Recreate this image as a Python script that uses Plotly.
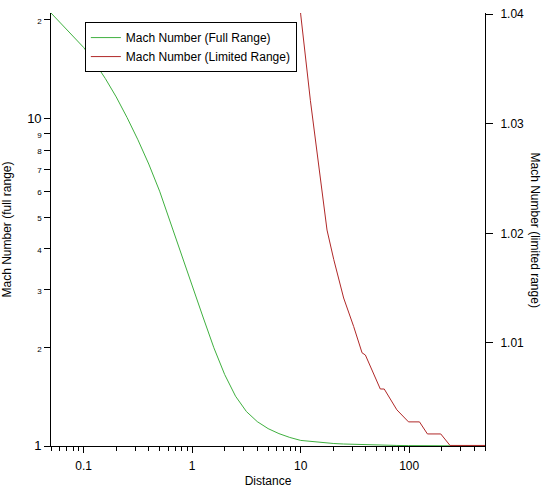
import plotly.graph_objects as go

# Data (shared by both traces)
distance = [0.05, 0.0631, 0.0794, 0.1, 0.1259, 0.1585, 0.1995, 0.2512, 0.3162,
            0.3981, 0.5012, 0.631, 0.794, 1.0, 1.259, 1.585, 1.995, 2.512, 3.162,
            3.981, 5.012, 6.31, 7.94, 10.0, 12.3, 14.7, 17.5, 20.2, 24.9, 30.8,
            36.8, 39.5, 47.0, 54.2, 58.9, 77.0, 98.6, 124.5, 147.3, 195.5, 238.0,
            500.0]
mach = [21.0, 19.36, 17.86, 16.48, 14.86, 13.24, 11.64, 10.07, 8.61,
        7.26, 6.00, 4.79, 3.85, 3.09, 2.477, 1.995, 1.652, 1.419, 1.274,
        1.187, 1.130, 1.091, 1.062, 1.04, 1.0321, 1.026, 1.0203, 1.0176, 1.0141,
        1.0115, 1.0091, 1.0089, 1.0072, 1.0058, 1.0058, 1.0039, 1.0028, 1.0028,
        1.0017, 1.0017, 1.00065, 1.00065]

x_major = [0.1, 1, 10, 100]
x_major_text = ["0.1", "1", "10", "100"]
x_minor = [m * 10 ** e for e in (-2, -1, 0, 1, 2) for m in range(2, 10)]

y_left_vals = [1, 2, 3, 4, 5, 6, 7, 8, 9, 10, 20]
y_left_text = ["1", "2", "3", "4", "5", "6", "7", "8", "9", "10", "2"]
y_right_vals = [1.01, 1.02, 1.03, 1.04]
y_right_text = ["1.01", "1.02", "1.03", "1.04"]

FONT = "Liberation Sans, Arial, Helvetica, sans-serif"

def lbl(t):
    if t in ("1", "10"):
        return '<span style="font-size:13px">%s</span>' % t
    return '<span style="font-size:8px">%s</span>' % t

fig = go.Figure()
fig.add_trace(go.Scatter(x=distance, y=mach, mode="lines", name="Mach Number (Full Range)",
                         line=dict(color="#3fb03f", width=1), yaxis="y"))
fig.add_trace(go.Scatter(x=distance, y=mach, mode="lines", name="Mach Number (Limited Range)",
                         line=dict(color="#b02828", width=1), yaxis="y2"))

fig.update_layout(
    width=550, height=488,
    margin=dict(l=51, r=65, t=13, b=42, autoexpand=False),
    paper_bgcolor="white", plot_bgcolor="white",
    font=dict(family=FONT, color="black", size=12),
    showlegend=True,
    legend=dict(x=0.078, y=0.979, xanchor="left", yanchor="top",
                bordercolor="black", borderwidth=1, bgcolor="white",
                font=dict(size=12, family=FONT), itemwidth=30,
                tracegroupgap=0),
    xaxis=dict(type="log", range=[-1.30103, 2.69897], automargin=False,
               tickmode="array", tickvals=x_major, ticktext=x_major_text,
               ticks="outside", ticklen=6, tickcolor="black",
               ticklabelstandoff=3,
               showline=True, linecolor="black", linewidth=1,
               showgrid=False, zeroline=False,
               tickfont=dict(size=12, family=FONT),
               minor=dict(tickmode="array", tickvals=x_minor, ticks="outside",
                          ticklen=4, tickcolor="black", showgrid=False),
               title=dict(text="Distance", font=dict(size=12))),
    yaxis=dict(type="log", range=[0, 1.3222], automargin=False,
               tickmode="array", tickvals=y_left_vals,
               ticktext=[lbl(t) for t in y_left_text],
               ticks="outside", ticklen=6, tickcolor="black",
               showline=True, linecolor="black", linewidth=1,
               showgrid=False, zeroline=False,
               title=dict(text="Mach Number (full range)", font=dict(size=12))),
    yaxis2=dict(overlaying="y", side="right", range=[1.0006, 1.0401], automargin=False,
                tickmode="array", tickvals=y_right_vals, ticktext=y_right_text,
                ticks="outside", ticklen=7, tickcolor="black",
                ticklabelstandoff=5,
                showline=True, linecolor="black", linewidth=1,
                showgrid=False, zeroline=False,
                tickfont=dict(size=12, family=FONT)),
    annotations=[dict(text="Mach Number (limited range)", xref="paper", yref="paper",
                      x=1, y=0.5, xshift=59, textangle=90, showarrow=False,
                      font=dict(size=12, family=FONT))],
)

fig.write_html("out.html", config={"displayModeBar": False},
               post_script="document.body.style.margin='0';document.body.style.padding='0';")
